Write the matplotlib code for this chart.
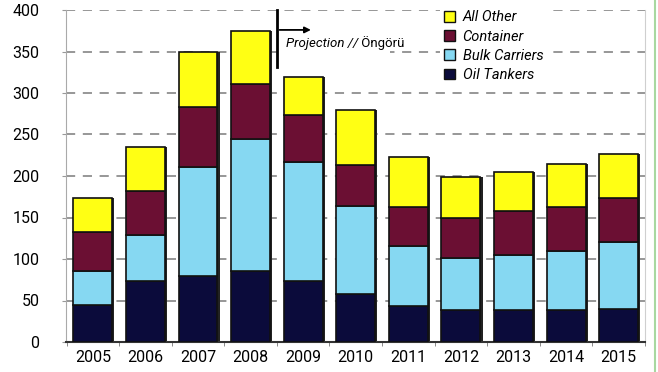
import matplotlib
matplotlib.use("Agg")
import matplotlib.pyplot as plt
import numpy as np
from matplotlib.patches import Patch, Rectangle
from matplotlib.lines import Line2D

years = ["2005", "2006", "2007", "2008", "2009", "2010", "2011", "2012", "2013", "2014", "2015"]
oil_tankers = [44, 74, 80, 86, 73, 58, 43, 39, 38, 38, 40]
bulk_carriers = [41, 55, 131, 159, 144, 106, 73, 62, 67, 72, 80]
container = [47, 53, 72, 66, 56, 49, 47, 48, 53, 53, 54]
all_other = [42, 53, 66, 64, 46, 67, 60, 50, 47, 51, 53]

series = [("Oil Tankers", oil_tankers, "#0b0b3b"),
          ("Bulk Carriers", bulk_carriers, "#86d8f2"),
          ("Container", container, "#6b0f33"),
          ("All Other", all_other, "#ffff14")]

plt.rcParams['font.family'] = ['Roboto', 'DejaVu Sans']

fig = plt.figure(figsize=(6.58, 3.72), dpi=100)
ax = fig.add_axes([66/658, 1-342/372, (645-66)/658, (342-10)/372])

x = np.arange(len(years))
totals = np.sum([oil_tankers, bulk_carriers, container, all_other], axis=0)
# shadow behind bars
ax.bar(x + 0.04, totals, width=0.74, color="#222222", zorder=2)
bottom = np.zeros(len(years))
for name, vals, col in series:
    ax.bar(x, vals, width=0.74, bottom=bottom, color=col, edgecolor="#111111",
           linewidth=1.2, zorder=3)
    bottom += np.array(vals)

ax.set_xlim(-0.51, 10.45)
ax.set_ylim(0, 400)
ax.set_yticks(np.arange(0, 401, 50))
ax.set_xticks(x)
ax.set_xticklabels(years)
ax.set_xticks(np.arange(-0.5, 10.6, 1), minor=True)
ax.tick_params(axis='x', which='major', length=0, labelsize=11.5, pad=6)
ax.tick_params(axis='x', which='minor', length=3, color="#777777")
ax.tick_params(axis='y', length=3, color="#999999", labelsize=11.5, pad=16)

for v in range(50, 401, 50):
    ax.axhline(v, color="#7a7a7a", linestyle=(0, (6, 5)), linewidth=1.1, zorder=1)

ax.spines["top"].set_visible(False)
ax.spines["right"].set_color("#cfcfcf")
ax.spines["left"].set_color("#aaaaaa")
ax.spines["bottom"].set_color("#333333")
ax.spines["bottom"].set_linewidth(1.5)

# projection marker
ax.add_patch(Rectangle((3.55, 346), 2.1, 26, facecolor="white", edgecolor="none", zorder=1.5))
t1 = ax.text(3.67, 360, "Projection //", fontsize=9.5, style="italic", va="center", ha="left", zorder=4)
ax.annotate(" Öngörü", xy=(1, 0.5), xycoords=t1, va="center", ha="left", fontsize=9.5, zorder=4)
ax.plot([3.5, 3.5], [331, 400], color="black", linewidth=2, zorder=5, clip_on=False)
ax.annotate("", xy=(4.2, 376), xytext=(3.5, 376),
            arrowprops=dict(arrowstyle="-|>", color="black", lw=1.3, mutation_scale=9), zorder=5)

handles = [Patch(facecolor=c, edgecolor="#111111", linewidth=1.0, label=n) for n, v, c in reversed(series)]
leg = ax.legend(handles=handles, loc="upper left", bbox_to_anchor=(440/658, 1-6/372),
                bbox_transform=fig.transFigure,
                frameon=True, facecolor="white", edgecolor="none", framealpha=1, fancybox=False,
                prop=dict(style="italic", size=10.5), handlelength=0.75,
                handleheight=0.75, handletextpad=0.5, labelspacing=0.36, borderaxespad=0, borderpad=0.3)
leg.set_zorder(6)

fig.add_artist(Line2D([655/658, 655/658], [0, 1], color="#a8d8a0", linewidth=1.5, transform=fig.transFigure))

fig.savefig("out.png", dpi=100)
